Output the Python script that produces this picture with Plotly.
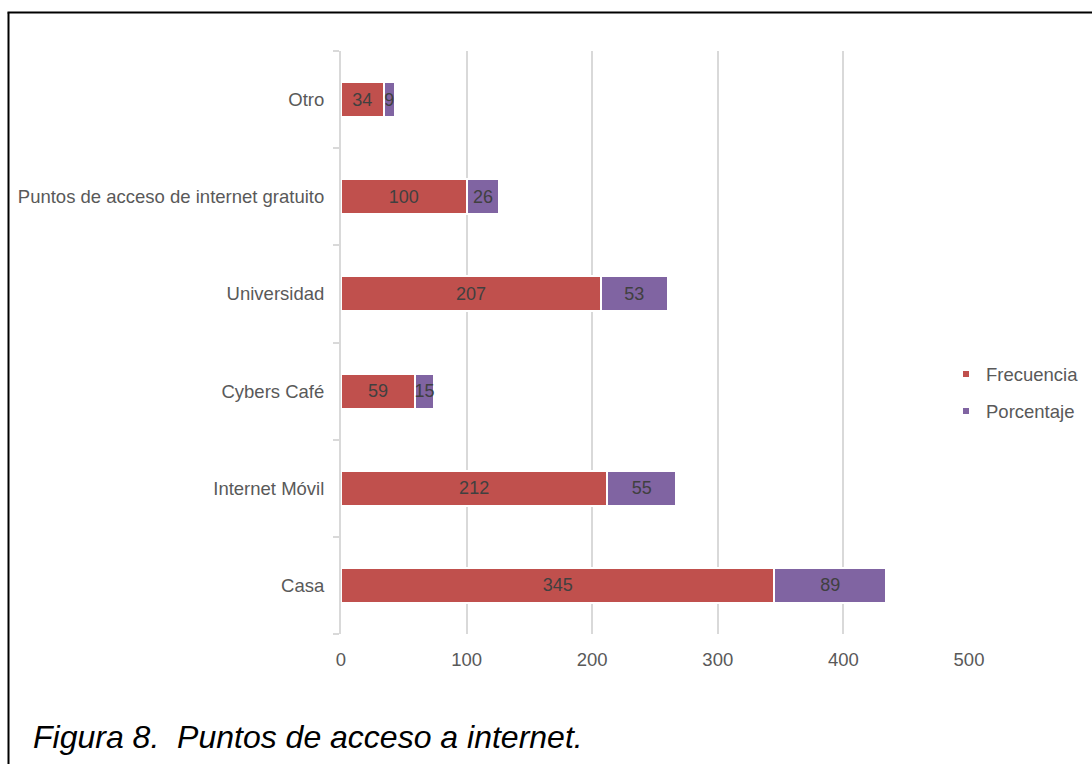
import plotly.graph_objects as go

categories = ["Casa", "Internet Móvil", "Cybers Café", "Universidad",
              "Puntos de acceso de internet gratuito", "Otro"]
frecuencia = [345, 212, 59, 207, 100, 34]
porcentaje = [89, 55, 15, 53, 26, 9]
x_ticks = [0, 100, 200, 300, 400, 500]
series_names = ["Frecuencia", "Porcentaje"]
series_colors = ["#C0504D", "#8064A2"]

W, H = 1092, 764
L, R, T, B = 341, 123, 51, 130
pw, ph = W - L - R, H - T - B
FONT = "Liberation Sans"
FS = 18.5

def px(x):
    return (x - L) / pw

def py(y):
    return (H - B - y) / ph

fig = go.Figure()
for name, vals, col in zip(series_names, [frecuencia, porcentaje], series_colors):
    fig.add_trace(go.Bar(
        y=categories, x=vals, orientation="h", name=name, showlegend=False,
        marker=dict(color=col, line=dict(color="white", width=2)),
        text=[str(v) for v in vals], textposition="inside",
        insidetextanchor="middle", textangle=0, constraintext="none",
        textfont=dict(family=FONT, size=18, color="#404040"),
        cliponaxis=False,
    ))
for i, (name, col) in enumerate(zip(series_names, series_colors)):
    fig.add_trace(go.Scatter(
        x=[None], y=[None], mode="markers", name=name, legendgroup=f"g{i}",
        marker=dict(symbol="square", size=6, color=col),
    ))

fig.update_layout(
    width=W, height=H,
    margin=dict(l=L, r=R, t=T, b=B, autoexpand=False),
    barmode="stack", bargap=0.64,
    paper_bgcolor="white", plot_bgcolor="white",
    font=dict(family=FONT, size=FS, color="#595959"),
    showlegend=True,
    legend=dict(x=px(946), xanchor="left", y=py(393), yanchor="middle",
                bgcolor="rgba(0,0,0,0)",
                font=dict(family=FONT, size=FS, color="#595959"),
                traceorder="grouped", tracegroupgap=10,
                itemwidth=30),
    xaxis=dict(range=[0, 500], tickvals=x_ticks, showgrid=True,
               gridcolor="#D9D9D9", gridwidth=2, zeroline=False,
               showline=False, ticks="", ticklabelstandoff=12,
               tickfont=dict(family=FONT, size=FS, color="#595959")),
    yaxis=dict(categoryorder="array", categoryarray=categories,
               showline=True, linecolor="#D9D9D9", linewidth=2,
               ticks="outside", tickson="boundaries", ticklen=6,
               tickcolor="#D9D9D9", tickwidth=2, ticklabelstandoff=11,
               tickfont=dict(family=FONT, size=FS, color="#595959")),
    shapes=[
        dict(type="line", xref="paper", yref="paper", x0=px(8.5), x1=px(8.5),
             y0=py(H + 5), y1=py(12.5), line=dict(color="black", width=2)),
        dict(type="line", xref="paper", yref="paper", x0=px(7.5), x1=px(W + 5),
             y0=py(12.5), y1=py(12.5), line=dict(color="black", width=2)),
    ],
    annotations=[dict(
        text="<i>Figura 8.  Puntos de acceso a internet.</i>",
        xref="paper", yref="paper", x=px(31), y=py(737),
        xanchor="left", yanchor="middle", showarrow=False,
        font=dict(family=FONT, size=32, color="black"),
    )],
)

fig.write_html("out.html")
